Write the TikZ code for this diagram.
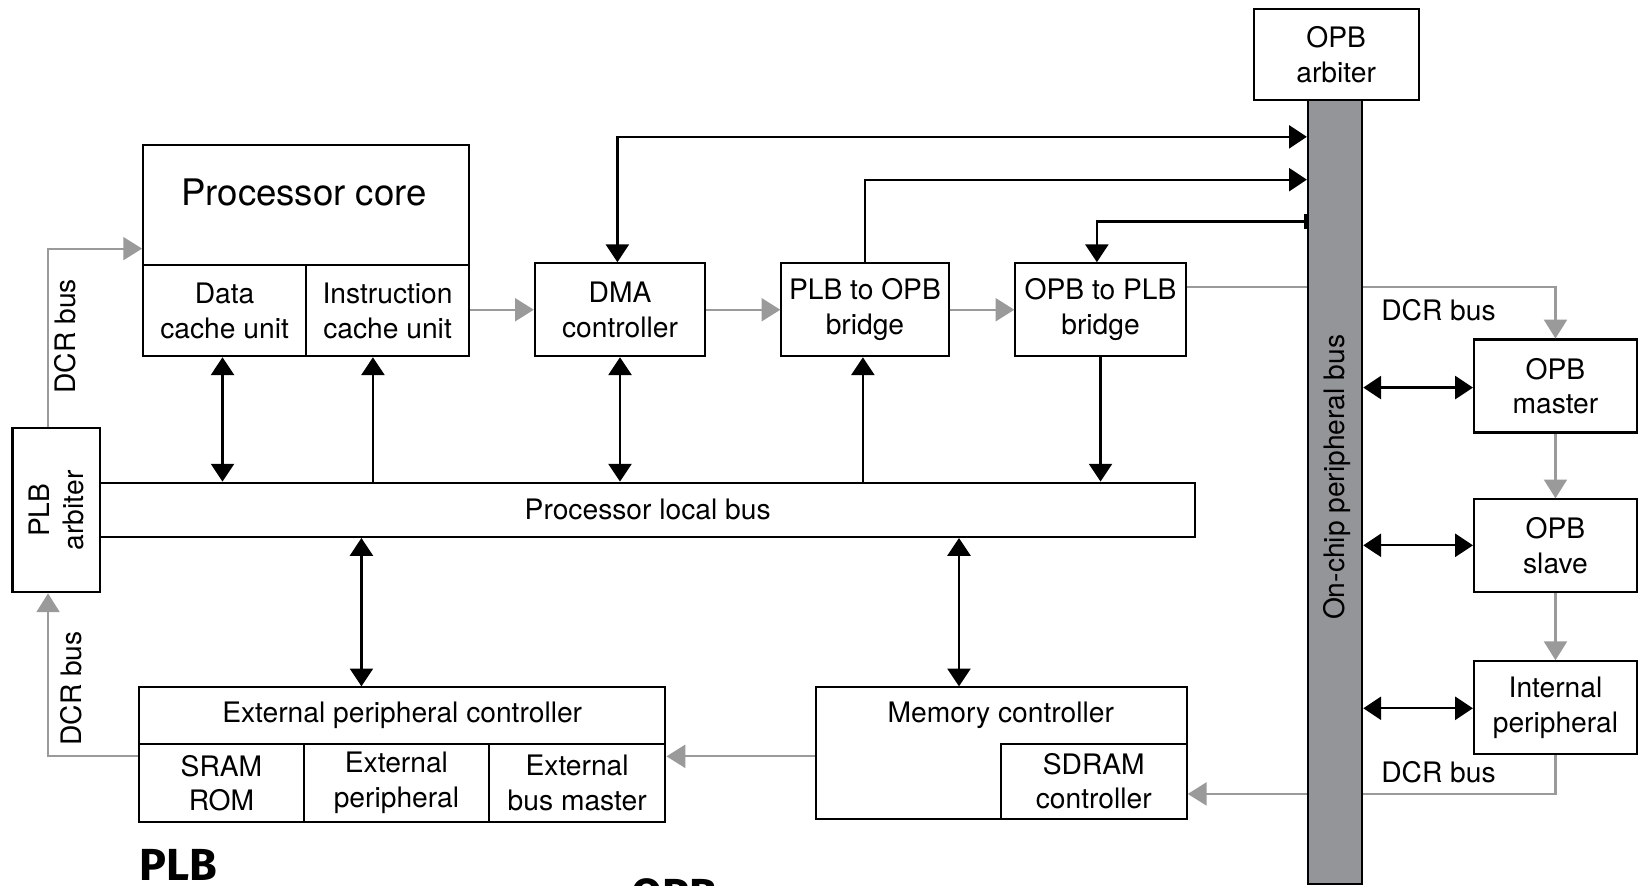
\documentclass[tikz,border=0pt]{standalone}
\usepackage{fontspec}
\setmainfont{TeX Gyre Heros}
\newfontfamily\tagfont{Fira Sans}
\usepackage{tikz}
\usepackage{xcolor}
\usetikzlibrary{arrows.meta}
\usetikzlibrary{positioning}

\definecolor{dcrgray}{HTML}{9A9A9A}
\definecolor{busgray}{HTML}{939598}

\tikzset{
	blk/.style={draw, line width=1pt, inner sep=0pt, align=center, font=\fontsize{13.5}{16.5}\selectfont},
	lbl/.style={inner sep=0pt, align=center, font=\fontsize{13.5}{16.5}\selectfont},
	bline/.style={draw, line width=1.1pt, >={Triangle[length=8.5pt,width=11pt]}},
	gline/.style={draw=dcrgray, line width=1pt, >={Triangle[length=9pt,width=11pt]}},
	tag/.style={inner sep=0pt, anchor=base west, font=\tagfont\bfseries\fontsize{21.5}{24}\selectfont},
}

\begin{document}
\begin{tikzpicture}[x=0.5pt, y=-0.5pt]
	\clip (0,0) rectangle (1568,848);
	\fill[white] (0,0) rectangle (1568,848);
	
	\node[blk, minimum width=156pt, minimum height=57.5pt] (core) at (293,196.5) {};
	\node[lbl, font=\fontsize{17.5}{21}\selectfont] (corelbl) at (291,184) {Processor core};
	\node[blk, minimum width=78pt, minimum height=43.5pt] (dcache) at (215,297.5) {Data\\cache unit};
	\node[blk, minimum width=78pt, minimum height=43.5pt] (icache) at (371,297.5) {Instruction\\cache unit};
	
	\node[blk, minimum width=81.5pt, minimum height=44.5pt] (dma) at (593.5,296.5) {DMA\\controller};
	\node[blk, minimum width=80pt, minimum height=44.5pt] (p2o) at (828,296.5) {PLB to OPB\\bridge};
	\node[blk, minimum width=81.5pt, minimum height=44.5pt] (o2p) at (1053.5,296.5) {OPB to PLB\\bridge};
	
	\node[blk, minimum width=79pt, minimum height=43.5pt] (opbarb) at (1279,52.5) {OPB\\arbiter};
	\node[blk, fill=busgray, minimum width=26pt, minimum height=375pt] (opbbus) at (1278,471) {};
	\node[lbl, rotate=90] (opblbl) at (1280,457) {On-chip peripheral bus};
	
	\node[blk, minimum width=42pt, minimum height=78.5pt] (plbarb) at (54,488.5) {};
	\node[lbl, rotate=90] (plbarblbl) at (54,488.5) {PLB\\arbiter};
	\node[blk, minimum width=524pt, minimum height=26pt] (plb) at (620,488) {Processor local bus};
	
	\node[blk, minimum width=78pt, minimum height=44.5pt] (opbm) at (1489,369.5) {OPB\\master};
	\node[blk, minimum width=78pt, minimum height=44.5pt] (opbs) at (1489,522.5) {OPB\\slave};
	\node[blk, minimum width=78pt, minimum height=44.5pt] (intp) at (1489,677.5) {Internal\\peripheral};
	
	\node[blk, minimum width=252pt, minimum height=27pt] (epc) at (385,685) {External peripheral controller};
	\node[blk, minimum width=79pt, minimum height=37.5pt] (sram) at (212,749.5) {SRAM\\ROM};
	\node[blk, minimum width=88.5pt, minimum height=37.5pt] (extp) at (379.5,749.5) {External\\peripheral};
	\node[blk, minimum width=84.5pt, minimum height=37.5pt] (extbm) at (552.5,749.5) {External\\bus master};
	
	\node[blk, minimum width=177.5pt, minimum height=63pt] (memctrl) at (958.5,721) {};
	\node[lbl] (memlbl) at (958,685) {Memory controller};
	\node[blk, minimum width=89pt, minimum height=36pt] (sdram) at (1047,748) {SDRAM\\controller};
	
	\draw[gline, ->] (46,0 |- plbarb.north) |- (core.west |- 0,238);
	\node[lbl, rotate=90] (dcrA) at (62,322) {DCR bus};
	\draw[gline, ->] (icache.east |- dma.west) -- (dma.west);
	\draw[gline, ->] (dma.east) -- (p2o.west);
	\draw[gline, ->] (p2o.east) -- (o2p.west);
	\draw[gline] (o2p.east |- 0,275) -- (opbbus.west |- 0,275);
	\draw[gline, ->] (opbbus.east |- 0,275) -| (opbm.north);
	\node[lbl] (dcrB) at (1377,297) {DCR bus};
	\draw[gline, ->] (opbm.south) -- (opbs.north);
	\draw[gline, ->] (opbs.south) -- (intp.north);
	\draw[gline] (intp.south) |- (opbbus.east |- 0,760);
	\draw[gline, ->] (opbbus.west |- 0,760) -- (sdram.east |- 0,760);
	\node[lbl] (dcrC) at (1377,739) {DCR bus};
	\draw[gline, ->] (memctrl.west |- 0,724) -- (extbm.east |- 0,724);
	\draw[gline, ->] (sram.west |- 0,724) -| (46,0 |- plbarb.south);
	\node[lbl, rotate=90] (dcrD) at (68,659) {DCR bus};
	
	\draw[bline, <->] (591,0 |- dma.north) |- (opbbus.west |- 0,131);
	\draw[bline, ->] (p2o.north) |- (opbbus.west |- 0,172);
	\draw[bline, {Bar[width=7pt,line width=1.5pt]}->] (opbbus.west |- 0,212) -| (1050,0 |- o2p.north);
	
	\draw[bline, <->] (213,0 |- dcache.south) -- (213,0 |- plb.north);
	\draw[bline, <-] (357,0 |- icache.south) -- (357,0 |- plb.north);
	\draw[bline, <->] (dma.south) -- (dma.south |- plb.north);
	\draw[bline, <-] (826,0 |- p2o.south) -- (826,0 |- plb.north);
	\draw[bline, ->] (o2p.south) -- (o2p.south |- plb.north);
	\draw[bline, <->] (346,0 |- plb.south) -- (346,0 |- epc.north);
	\draw[bline, <->] (918,0 |- plb.south) -- (918,0 |- memctrl.north);
	
	\draw[bline, <->] (opbbus.east |- 0,371) -- (opbm.west |- 0,371);
	\draw[bline, <->] (opbbus.east |- 0,522) -- (opbs.west |- 0,522);
	\draw[bline, <->] (opbbus.east |- 0,678) -- (intp.west |- 0,678);
	
	\node[tag] (plbtag) at (133,843) {PLB};
	\node[tag] (opbtag) at (604,872) {OPB};
\end{tikzpicture}
\end{document}
